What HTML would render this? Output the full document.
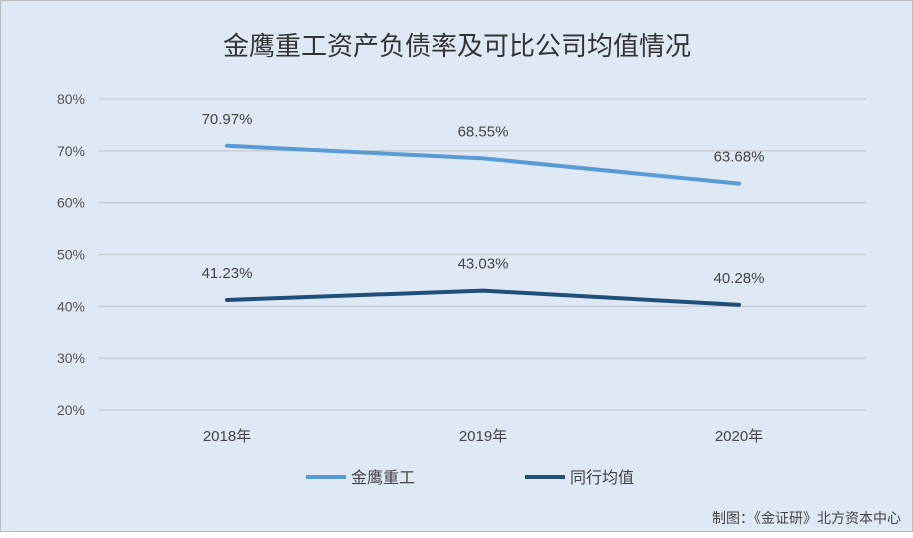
<!DOCTYPE html>
<html><head><meta charset="utf-8"><style>
body{margin:0;width:913px;height:532px;overflow:hidden;font-family:"Liberation Sans","Noto Sans CJK SC",sans-serif;}
#wrap{position:absolute;left:0;top:0;width:911px;height:530px;background:#dfe9f5;border:1px solid #b8bcc2;}
</style></head><body>
<div id="wrap">
<svg id="chart" width="913" height="532"></svg>
</div>
<script>
const categories=["2018年","2019年","2020年"];
const seriesA=[70.97,68.55,63.68];
const seriesB=[41.23,43.03,40.28];
const yTicks=[20,30,40,50,60,70,80];
const NS="http://www.w3.org/2000/svg";
const svg=document.getElementById('chart');
function y(v){return 409-(v-20)*(409-98)/60;}
function x(i){return 226+i*256;}
function el(t,a,txt){const e=document.createElementNS(NS,t);for(const k in a)e.setAttribute(k,a[k]);if(txt!==undefined)e.textContent=txt;svg.appendChild(e);return e;}
let t=el('text',{x:456,y:54,'text-anchor':'middle','font-size':26,fill:'#333'},'金鹰重工资产负债率及可比公司均值情况');


yTicks.forEach(v=>{
 let g=el('line',{x1:98,x2:865,y1:y(v),y2:y(v),stroke:'#c8cdd3','stroke-width':1.3});
 
 
 let l=el('text',{x:84,y:y(v)+5,'text-anchor':'end','font-size':14,fill:'#555'},v+'%');
 
 
});
categories.forEach((c,i)=>{
 let l=el('text',{x:x(i),y:440,'text-anchor':'middle','font-size':15,fill:'#444'},c);
 
 
});
function series(data,color,name){
 let p=el('polyline',{points:data.map((v,i)=>x(i)+','+y(v)).join(' '),fill:'none',stroke:color,'stroke-width':4,'stroke-linecap':'round'});
 
 
 data.forEach((v,i)=>{
  let l=el('text',{x:x(i),y:y(v)-22,'text-anchor':'middle','font-size':15,fill:'#444'},v.toFixed(2)+'%');
  
  
 });
}
series(seriesA,'#5b9bd5','jinying');
series(seriesB,'#1f4e79','peer-average');
let l1=el('line',{x1:305,x2:345,y1:476,y2:476,stroke:'#5b9bd5','stroke-width':4});


let t1=el('text',{x:350,y:482,'font-size':16,fill:'#444'},'金鹰重工');


let l2=el('line',{x1:524,x2:564,y1:476,y2:476,stroke:'#1f4e79','stroke-width':4});


let t2=el('text',{x:569,y:482,'font-size':16,fill:'#444'},'同行均值');


let s=el('text',{x:900,y:522,'text-anchor':'end','font-size':14,fill:'#444'},'制图：《金证研》北方资本中心');


</script>
</body></html>
